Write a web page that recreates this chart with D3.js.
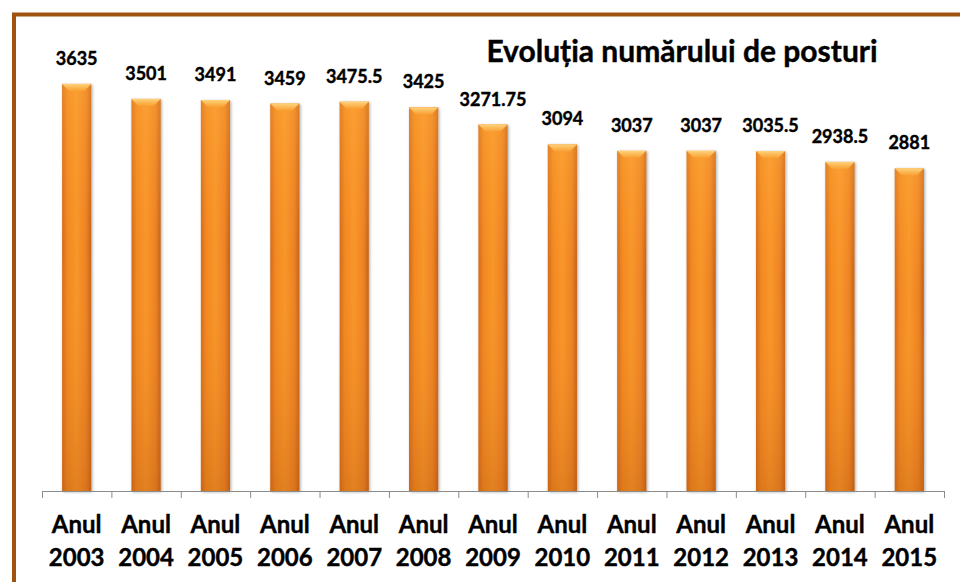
<!DOCTYPE html>
<head>
    <meta charset="utf-8">
    <script src="https://d3js.org/d3.v7.min.js"></script>
    <style type="text/css">
        body { margin: 0; background: #fff; }
        text { font-family: Lato, "Open Sans", sans-serif; font-weight: bold; fill: #000;
               stroke: #000; stroke-width: 0.4px; }
    </style>
</head>
<body>
<script type="text/javascript">
    // data
    var ani = ["2003","2004","2005","2006","2007","2008","2009","2010","2011","2012","2013","2014","2015"],
        posturi = [3635, 3501, 3491, 3459, 3475.5, 3425, 3271.75, 3094, 3037, 3037, 3035.5, 2938.5, 2881],
        eticheteValori = ["3635","3501","3491","3459","3475.5","3425","3271.75","3094","3037","3037","3035.5","2938.5","2881"],
        titlu = "Evoluția numărului de posturi";
</script>

<script type="text/javascript">
    var w = 960, h = 582;

    var svg = d3.select("body").append("svg")
        .attr("width", w)
        .attr("height", h);

    var defs = svg.append("defs");

    // side shading of the bars
    var gx = defs.append("linearGradient").attr("id", "barH")
        .attr("x1", "0").attr("x2", "1").attr("y1", "0").attr("y2", "0");
    gx.append("stop").attr("offset", "0").attr("stop-color", "#d26a1a");
    gx.append("stop").attr("offset", "0.18").attr("stop-color", "#f28822");
    gx.append("stop").attr("offset", "0.5").attr("stop-color", "#f8962a");
    gx.append("stop").attr("offset", "0.82").attr("stop-color", "#ee8224");
    gx.append("stop").attr("offset", "1").attr("stop-color", "#c2621a");

    // darker towards the base
    var gy = defs.append("linearGradient").attr("id", "barV")
        .attr("x1", "0").attr("x2", "0").attr("y1", "0").attr("y2", "1");
    gy.append("stop").attr("offset", "0").attr("stop-color", "#ffb040").attr("stop-opacity", 0.35);
    gy.append("stop").attr("offset", "0.4").attr("stop-color", "#ff9a30").attr("stop-opacity", 0);
    gy.append("stop").attr("offset", "1").attr("stop-color", "#b85a10").attr("stop-opacity", 0.35);

    var gc = defs.append("linearGradient").attr("id", "cap")
        .attr("x1", "0").attr("x2", "0").attr("y1", "0").attr("y2", "1");
    gc.append("stop").attr("offset", "0").attr("stop-color", "#ffd27a");
    gc.append("stop").attr("offset", "1").attr("stop-color", "#f9a033");

    var sh = defs.append("filter").attr("id", "shadow")
        .attr("x", "-30%").attr("y", "-10%").attr("width", "160%").attr("height", "120%");
    sh.append("feGaussianBlur").attr("in", "SourceAlpha").attr("stdDeviation", 1.5);
    sh.append("feOffset").attr("dx", 1).attr("dy", 1).attr("result", "b");
    sh.append("feComponentTransfer").append("feFuncA").attr("type", "linear").attr("slope", 0.35);
    var mg = sh.append("feMerge");
    mg.append("feMergeNode");
    mg.append("feMergeNode").attr("in", "SourceGraphic");

    // frame
    svg.append("rect")
        .attr("x", 14).attr("y", 14.5)
        .attr("width", w + 20).attr("height", h + 20)
        .attr("fill", "none")
        .attr("stroke", "#a0520f")
        .attr("stroke-width", 4);

    // scales
    var x = d3.scaleBand().domain(ani).range([42, 944]).paddingInner(0.58).paddingOuter(0.29);
    var y = d3.scaleLinear().domain([0, 4000]).range([491, 43]);

    var g = svg.append("g");

    var bars = g.selectAll("g.bar").data(posturi).enter().append("g")
        .attr("class", "bar")
        .attr("filter", "url(#shadow)");

    bars.append("rect")
        .attr("x", function(d, i) { return x(ani[i]); })
        .attr("y", function(d) { return y(d); })
        .attr("width", x.bandwidth())
        .attr("height", function(d) { return y(0) - y(d); })
        .attr("fill", "url(#barH)");

    bars.append("rect")
        .attr("x", function(d, i) { return x(ani[i]); })
        .attr("y", function(d) { return y(d); })
        .attr("width", x.bandwidth())
        .attr("height", function(d) { return y(0) - y(d); })
        .attr("fill", "url(#barV)");

    // bevelled top
    bars.append("path")
        .attr("d", function(d, i) {
            var x0 = x(ani[i]), x1 = x0 + x.bandwidth(), t = y(d), b = 7;
            return "M" + x0 + "," + t + "L" + x1 + "," + t + "L" + (x1 - b) + "," + (t + b) +
                "L" + (x0 + b) + "," + (t + b) + "Z";
        })
        .attr("fill", "url(#cap)");

    // value labels
    g.selectAll("text.val").data(posturi).enter().append("text")
        .attr("class", "val")
        .attr("x", function(d, i) { return x(ani[i]) + x.bandwidth() / 2; })
        .attr("y", function(d) { return y(d) - 19; })
        .attr("text-anchor", "middle")
        .style("font-size", "18px")
        .text(function(d, i) { return eticheteValori[i]; });

    // axis
    var xAxis = d3.axisBottom(x).tickSize(0).tickFormat("");
    var ax = svg.append("g").attr("transform", "translate(0," + y(0) + ")").call(xAxis);
    ax.select(".domain").attr("stroke", "#8c8c8c").attr("d", "M42,0.5H944");
    ax.selectAll(".sep").data(d3.range(ani.length + 1)).enter().append("line")
        .attr("class", "sep")
        .attr("x1", function(i) { return 42.5 + i * x.step(); })
        .attr("x2", function(i) { return 42.5 + i * x.step(); })
        .attr("y1", 0).attr("y2", 7)
        .attr("stroke", "#8c8c8c");

    var cat = svg.append("g").selectAll("text.cat").data(ani).enter().append("text")
        .attr("class", "cat")
        .attr("text-anchor", "middle")
        .attr("x", function(d) { return x(d) + x.bandwidth() / 2; })
        .style("font-size", "24px");
    cat.append("tspan").attr("x", function(d) { return x(d) + x.bandwidth() / 2; })
        .attr("y", 533).text("Anul");
    cat.append("tspan").attr("x", function(d) { return x(d) + x.bandwidth() / 2; })
        .attr("y", 566).text(function(d) { return d; });

    // title
    svg.append("text")
        .attr("x", 682).attr("y", 62)
        .attr("text-anchor", "middle")
        .style("font-size", "30px")
        .text(titlu);
</script>
</body>
</html>
